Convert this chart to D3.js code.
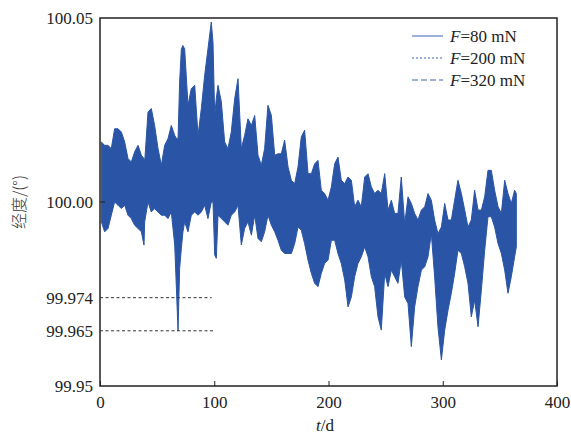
<!DOCTYPE html>
<html>
<head>
<meta charset="utf-8">
<script src="https://cdn.jsdelivr.net/npm/d3@7"></script>
<style>
  body { margin: 0; background: #fff; }
  svg text { font-family: "Liberation Serif", "Times New Roman", Times, serif; }
</style>
</head>
<body>
<script>
// envelope of the oscillating longitude (max / min of the daily swing)
const days = [1.2, 4.1, 7.0, 9.9, 12.8, 15.8, 18.7, 21.6, 24.5, 27.4, 30.3, 33.3, 36.2, 38.5, 39.1,
  42.0, 44.9, 47.8, 50.8, 53.7, 56.6, 59.5, 62.4, 65.4, 67.1, 68.3, 69.7, 71.2, 72.6, 74.1, 77.0,
  79.9, 82.9, 85.8, 88.7, 91.6, 94.5, 97.4, 98.9, 100.4, 101.8, 103.3, 106.2, 109.1, 112.0, 114.9,
  117.9, 120.8, 123.7, 126.6, 129.5, 132.5, 135.4, 138.3, 141.2, 144.1, 147.0, 150.0, 152.9,
  155.8, 158.7, 161.6, 164.6, 167.5, 170.4, 173.3, 176.2, 179.1, 182.1, 185.0, 187.9, 190.8,
  193.7, 196.6, 199.6, 202.5, 205.4, 208.3, 211.2, 214.2, 217.1, 220.0, 222.9, 225.8, 228.7,
  231.7, 234.6, 237.5, 240.4, 243.3, 246.2, 249.2, 252.1, 255.0, 257.9, 260.8, 263.7, 266.7,
  269.6, 272.5, 275.4, 278.3, 281.3, 284.2, 287.1, 290.0, 292.9, 295.8, 298.8, 301.7, 304.6,
  307.5, 310.4, 313.3, 316.3, 319.2, 322.1, 325.0, 327.9, 330.9, 333.8, 336.7, 339.6, 342.5,
  345.4, 348.4, 351.3, 354.2, 357.1, 360.0, 362.9, 364.4];

const upper = [100.0163, 100.0154, 100.0154, 100.0145, 100.0199, 100.0199, 100.0190, 100.0163,
  100.0118, 100.0109, 100.0136, 100.0154, 100.0127, 100.0118, 100.0109,
  100.0244, 100.0254, 100.0208, 100.0145, 100.0100, 100.0154, 100.0172, 100.0208, 100.0181,
  100.0172, 100.0172, 100.0326, 100.0416, 100.0425, 100.0416, 100.0263,
  100.0308, 100.0317, 100.0181, 100.0254, 100.0344, 100.0416, 100.0489, 100.0434, 100.0235,
  100.0281, 100.0317, 100.0272, 100.0163, 100.0145, 100.0190,
  100.0281, 100.0335, 100.0145, 100.0181, 100.0226, 100.0208, 100.0235, 100.0127, 100.0100,
  100.0145, 100.0263, 100.0235, 100.0127,
  100.0131, 100.0131, 100.0168, 100.0095, 100.0059, 100.0050, 100.0095, 100.0177, 100.0195,
  100.0077, 100.0077, 100.0104, 100.0113,
  100.0032, 100.0023, 100.0005, 100.0041, 100.0104, 100.0122, 100.0059, 100.0050, 100.0068,
  100.0059, 99.9987, 100.0005, 99.9987,
  100.0068, 100.0077, 100.0041, 100.0023, 100.0032, 100.0023, 100.0077, 99.9978, 100.0005,
  99.9969, 99.9969, 100.0068, 99.9941,
  100.0014, 99.9996, 99.9969, 99.9951, 99.9978, 99.9987, 100.0023, 100.0005, 99.9951,
  99.9914, 99.9932, 99.9996, 99.9951,
  99.9951, 100.0005, 100.0059, 100.0023, 99.9978, 99.9932, 99.9951, 100.0032, 99.9978,
  99.9978, 100.0014, 100.0086, 100.0086,
  100.0032, 99.9987, 99.9969, 100.0059, 100.0023, 99.9996, 100.0032, 100.0023];

const lower = [99.9946, 99.9919, 99.9928, 99.9964, 100.0000, 99.9991, 99.9982, 99.9991,
  99.9964, 99.9955, 99.9937, 99.9928, 99.9919, 99.9883, 99.9946,
  100.0000, 99.9973, 99.9982, 99.9973, 99.9964, 99.9964, 99.9955, 99.9973, 99.9883,
  99.9747, 99.9650, 99.9819, 99.9874, 99.9919, 99.9946, 99.9919,
  99.9964, 99.9973, 99.9964, 99.9973, 99.9991, 99.9955, 100.0000, 100.0000, 99.9856,
  99.9847, 99.9964, 99.9955, 99.9946, 99.9937, 99.9964,
  99.9973, 99.9991, 99.9883, 99.9928, 99.9946, 99.9910, 99.9964, 99.9901, 99.9892,
  99.9919, 99.9964, 99.9937, 99.9919,
  99.9896, 99.9869, 99.9860, 99.9860, 99.9860, 99.9887, 99.9932, 99.9923, 99.9887,
  99.9842, 99.9806, 99.9779, 99.9770,
  99.9806, 99.9833, 99.9842, 99.9896, 99.9896, 99.9860, 99.9833, 99.9788, 99.9715,
  99.9742, 99.9797, 99.9833, 99.9851,
  99.9878, 99.9851, 99.9797, 99.9770, 99.9688, 99.9652, 99.9806, 99.9770, 99.9815,
  99.9797, 99.9779, 99.9842, 99.9742,
  99.9724, 99.9607, 99.9715, 99.9770, 99.9815, 99.9824, 99.9851, 99.9914, 99.9797,
  99.9661, 99.9571, 99.9652, 99.9706,
  99.9752, 99.9806, 99.9869, 99.9860, 99.9824, 99.9779, 99.9688, 99.9733, 99.9661,
  99.9761, 99.9869, 99.9960, 99.9960,
  99.9932, 99.9887, 99.9860, 99.9815, 99.9752, 99.9797, 99.9851, 99.9878];

const xTicks = [0, 100, 200, 300, 400];
const yTicks = [99.95, 99.965, 99.974, 100.00, 100.05];
const yTickLabels = ["99.95", "99.965", "99.974", "100.00", "100.05"];
const markLines = [{ v: 99.974, t: 97.7 }, { v: 99.965, t: 100 }];
const legendLabels = ["80", "200", "320"];
const legendDash = [null, "2,2", "6,3"];

const width = 571;
const height = 435;
const margin = { top: 18, right: 14, bottom: 49, left: 100 };
const blue = "#2a55a6";

const svg = d3.select("body").append("svg")
  .attr("width", width)
  .attr("height", height);

const x = d3.scaleLinear().domain([0, 400]).range([margin.left, width - margin.right]);
const y = d3.scaleLinear().domain([99.95, 100.05]).range([height - margin.bottom, margin.top]);

const series = days.map((d, i) => ({ t: d, hi: upper[i], lo: lower[i] }));

// data band
svg.append("path")
  .datum(series)
  .attr("fill", blue)
  .attr("stroke", blue)
  .attr("stroke-width", 1)
  .attr("stroke-linejoin", "round")
  .attr("d", d3.area()
    .x((d) => x(d.t))
    .y0((d) => y(d.lo))
    .y1((d) => y(d.hi)));

// dashed markers at the minimum
svg.selectAll(".mark")
  .data(markLines)
  .enter()
  .append("line")
  .attr("class", "mark")
  .attr("x1", x(0))
  .attr("x2", (d) => x(d.t))
  .attr("y1", (d) => y(d.v))
  .attr("y2", (d) => y(d.v))
  .attr("stroke", "#333")
  .attr("stroke-width", 1)
  .attr("stroke-dasharray", "3,2.5");

// frame
svg.append("rect")
  .attr("x", x(0))
  .attr("y", y(100.05))
  .attr("width", x(400) - x(0))
  .attr("height", y(99.95) - y(100.05))
  .attr("fill", "none")
  .attr("stroke", "#222")
  .attr("stroke-width", 1.5);

// x axis
const xAxis = d3.axisBottom(x).tickValues(xTicks).tickSize(-5).tickPadding(10)
  .tickFormat(d3.format("d"));
const gx = svg.append("g")
  .attr("transform", `translate(0, ${y(99.95)})`)
  .call(xAxis);
gx.select(".domain").remove();
gx.selectAll(".tick line").attr("stroke", "#222");
gx.selectAll(".tick text").style("font-size", "17px").attr("fill", "#222");

// y axis
const yAxis = d3.axisLeft(y).tickValues(yTicks).tickSize(0).tickPadding(7)
  .tickFormat((d, i) => yTickLabels[i]);
const gy = svg.append("g")
  .attr("transform", `translate(${x(0)}, 0)`)
  .call(yAxis);
gy.select(".domain").remove();
gy.selectAll(".tick text").style("font-size", "17px").attr("fill", "#222");

svg.append("line")
  .attr("x1", x(0)).attr("x2", x(0) + 5)
  .attr("y1", y(100)).attr("y2", y(100))
  .attr("stroke", "#222");

// axis titles
const xt = svg.append("text")
  .attr("x", 325)
  .attr("y", 431)
  .attr("text-anchor", "middle")
  .style("font-size", "17px")
  .attr("fill", "#222");
xt.append("tspan").style("font-style", "italic").text("t");
xt.append("tspan").text("/d");

svg.append("text")
  .attr("transform", `translate(25, ${y(100)}) rotate(-90)`)
  .attr("text-anchor", "middle")
  .style("font-family", "'Noto Sans CJK SC', sans-serif")
  .style("font-size", "16px")
  .style("font-weight", 300)
  .attr("fill", "#333")
  .text("经度/(°)");

// legend
const legend = svg.selectAll(".legend")
  .data(legendLabels)
  .enter()
  .append("g")
  .attr("class", "legend")
  .attr("transform", (d, i) => `translate(412, ${36 + i * 22})`);

legend.append("line")
  .attr("x1", 0).attr("x2", 31)
  .attr("stroke", "#3b63b8")
  .attr("stroke-width", 1)
  .attr("stroke-dasharray", (d, i) => legendDash[i]);

const lt = legend.append("text")
  .attr("x", 38)
  .attr("dy", "0.35em")
  .style("font-size", "17px")
  .attr("fill", "#222");
lt.append("tspan").style("font-style", "italic").text("F");
lt.append("tspan").text((d) => `=${d} mN`);
</script>
</body>
</html>
